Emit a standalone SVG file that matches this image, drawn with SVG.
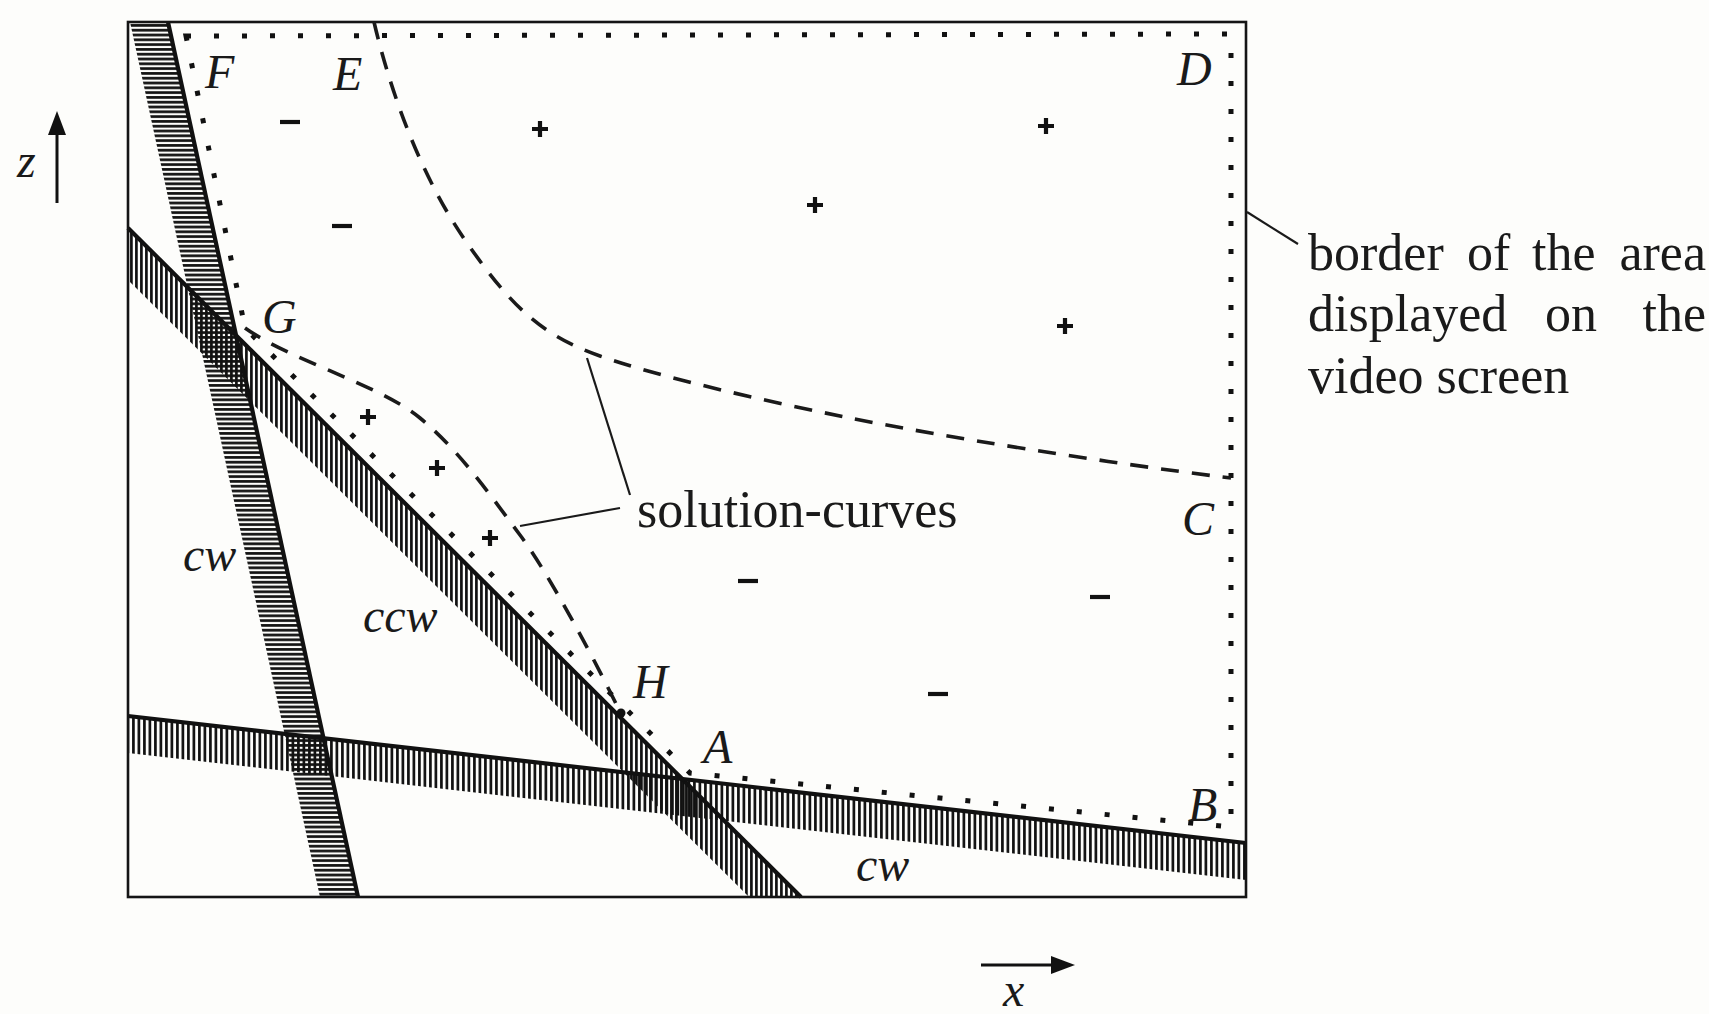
<svg xmlns="http://www.w3.org/2000/svg" xmlns:xlink="http://www.w3.org/1999/xlink" width="1709" height="1014" viewBox="0 0 1709 1014">
<style>
  .frame{fill:none;stroke:#151515;stroke-width:2.6}
  .edge{fill:none;stroke:#111;stroke-width:4.2}
  .dotted{fill:none;stroke:#111;stroke-width:5;stroke-dasharray:5 23}
  .dashed{fill:none;stroke:#1a1a1a;stroke-width:3.6;stroke-dasharray:18 13}
  .leader{fill:none;stroke:#1a1a1a;stroke-width:2.2}
  .sign{fill:none;stroke:#111;stroke-width:4.2}
  .lab{font-family:"Liberation Serif","Times New Roman",serif;font-style:italic;font-size:48px;fill:#1a1a1a}
  .txt{font-family:"Liberation Serif","Times New Roman",serif;font-size:52px;fill:#1a1a1a}
</style>
<defs>
  <pattern id="hatchH" patternUnits="userSpaceOnUse" width="10" height="4.8">
    <line x1="0" y1="1.4" x2="10" y2="1.4" stroke="#111" stroke-width="2.7"/>
  </pattern>
  <pattern id="hatchV" patternUnits="userSpaceOnUse" width="5" height="10">
    <line x1="1.4" y1="0" x2="1.4" y2="10" stroke="#111" stroke-width="2.7"/>
  </pattern>
  <pattern id="hatchV2" patternUnits="userSpaceOnUse" width="5.5" height="10">
    <line x1="1.4" y1="0" x2="1.4" y2="10" stroke="#111" stroke-width="2.7"/>
  </pattern>
  <path id="plus" d="M-8,0H8M0,-8V8" class="sign"/>
  <path id="minus" d="M-10,0H10" class="sign"/>
</defs>
<rect width="1709" height="1014" fill="#fdfdfb"/>

<g id="bands">
  <polygon id="band-cw-steep" points="130,22 168,22 358,897 320,897" fill="url(#hatchH)"/>
  <polygon id="band-ccw" points="128,228 801,897 749,897 128,280" fill="url(#hatchV)"/>
  <polygon id="band-cw-flat" points="128,716 1246,843 1246,880 128,753" fill="url(#hatchV2)"/>
  <line x1="168" y1="22" x2="358" y2="897" class="edge"/>
  <line x1="128" y1="228" x2="801" y2="897" class="edge"/>
  <line x1="128" y1="716" x2="1246" y2="843" class="edge"/>
</g>

<g id="frame">
  <rect x="128" y="22" width="1118" height="875" class="frame"/>
</g>

<g id="display-border">
  <path d="M186,36 L1231,34 L1231,827 L690,773 L245,328 Z" class="dotted"/>
</g>

<g id="solution-curves">
  <path id="curve-EC" d="M374,22 C390,90 420,175 465,240 S540,335 600,356 S760,400 850,418 S1100,462 1231,478" class="dashed"/>
  <path id="curve-GH" d="M245,328 C290,360 380,385 420,418 S490,495 520,535 S600,670 620,712" class="dashed"/>
  <circle id="point-H" cx="621" cy="713" r="4.5" fill="#111"/>
</g>

<g id="connectors">
  <line x1="587" y1="358" x2="630" y2="495" class="leader"/>
  <line x1="620" y1="508" x2="520" y2="526" class="leader"/>
  <line x1="1247" y1="212" x2="1298" y2="244" class="leader"/>
</g>

<g id="signs">
  <use href="#minus" x="290" y="122"/>
  <use href="#minus" x="342" y="226"/>
  <use href="#minus" x="748" y="581"/>
  <use href="#minus" x="1100" y="597"/>
  <use href="#minus" x="938" y="694"/>
  <use href="#plus" x="540" y="129"/>
  <use href="#plus" x="1046" y="126"/>
  <use href="#plus" x="815" y="205"/>
  <use href="#plus" x="1065" y="326"/>
  <use href="#plus" x="368" y="417"/>
  <use href="#plus" x="437" y="468"/>
  <use href="#plus" x="490" y="538"/>
</g>

<g id="point-labels">
  <text class="lab" x="205" y="88">F</text>
  <text class="lab" x="333" y="90">E</text>
  <text class="lab" x="1177" y="85">D</text>
  <text class="lab" x="262" y="333">G</text>
  <text class="lab" x="633" y="698">H</text>
  <text class="lab" x="703" y="763">A</text>
  <text class="lab" x="1188" y="821">B</text>
  <text class="lab" x="1182" y="535">C</text>
</g>

<g id="band-labels">
  <text class="lab" x="183" y="571">cw</text>
  <text class="lab" x="363" y="632">ccw</text>
  <text class="lab" x="856" y="881">cw</text>
</g>

<g id="label-solution-curves">
  <text class="txt" x="637" y="527">solution-curves</text>
</g>

<g id="label-border">
  <text class="txt" y="270"><tspan x="1308">border</tspan><tspan x="1467">of</tspan><tspan x="1532">the</tspan><tspan x="1706" text-anchor="end">area</tspan></text>
  <text class="txt" y="331"><tspan x="1308">displayed</tspan><tspan x="1545">on</tspan><tspan x="1706" text-anchor="end">the</tspan></text>
  <text class="txt" x="1308" y="393">video screen</text>
</g>

<g id="axis-z">
  <line x1="57" y1="203" x2="57" y2="128" stroke="#111" stroke-width="3"/>
  <polygon points="57,111 48,135 66,135" fill="#111"/>
  <text class="lab" x="17" y="177">z</text>
</g>

<g id="axis-x">
  <line x1="981" y1="965" x2="1056" y2="965" stroke="#111" stroke-width="3"/>
  <polygon points="1075,965 1051,956 1051,974" fill="#111"/>
  <text class="lab" x="1003" y="1006">x</text>
</g>
</svg>
